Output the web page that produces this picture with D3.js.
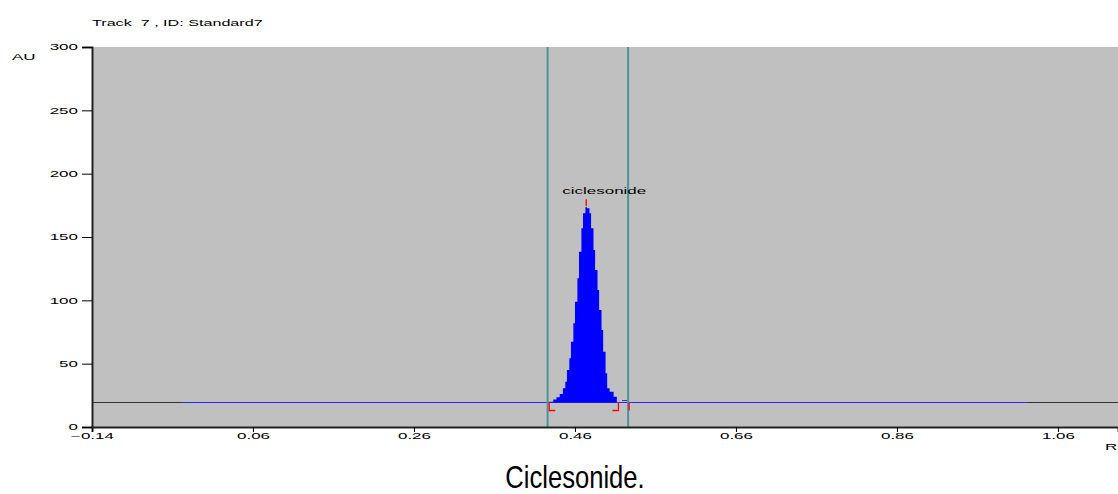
<!DOCTYPE html>
<html>
<head>
<meta charset="utf-8">
<script src="https://cdn.jsdelivr.net/npm/d3@7"></script>
<style>
  body { margin: 0; background: #fff; }
  text { font-family: "Liberation Sans", Arial, sans-serif; fill: #000; }
</style>
</head>
<body>
<div class="chart"></div>
<script>
// densitogram values (Rf, AU)
var peakRf = [0.428, 0.433, 0.437, 0.441, 0.445, 0.448, 0.450, 0.453, 0.455, 0.458, 0.460, 0.463, 0.465, 0.468, 0.470, 0.473, 0.475, 0.478, 0.480, 0.483, 0.485, 0.488, 0.490, 0.493, 0.495, 0.498, 0.500, 0.503, 0.508, 0.512]
var peakAU = [20.0, 21.8, 23.4, 26.0, 30.5, 35.8, 45.0, 54.2, 67.4, 81.9, 98.9, 117.4, 138.4, 156.9, 168.7, 173.4, 172.6, 168.7, 156.9, 139.7, 123.9, 108.2, 92.4, 76.6, 59.5, 42.4, 30.5, 27.9, 23.9, 20.0]
var baselineAU = 20
var blueBaseline = [-0.027, 1.023]
var windowRf = [0.426, 0.526]
var peakStart = 0.428, peakEnd = 0.514, peakMax = 0.474, peakMaxAU = 173.4
var peakName = 'ciclesonide'
var xTicks = [-0.14, 0.06, 0.26, 0.46, 0.66, 0.86, 1.06]
var yTicks = [0, 50, 100, 150, 200, 250, 300]

var margin = {top: 47, right: 0, bottom: 67, left: 92}
var W = 1118, H = 494
var width = W - margin.left - margin.right
var height = H - margin.top - margin.bottom
var SX = 2.0 // the instrument font is stretched sideways

var svg = d3.select('.chart').append('svg')
    .attr('width', W).attr('height', H)

var g = svg.append('g')
    .attr('transform', 'translate(' + margin.left + ',' + margin.top + ')')

var x = d3.scaleLinear().domain([-0.14, 1.1346]).range([0, width])
var y = d3.scaleLinear().domain([0, 300]).range([height, 0])

g.append('rect').attr('width', width).attr('height', height).attr('fill', '#c0c0c0')

// baseline, dark outside the integrated range, blue inside
var by = Math.round(y(baselineAU)) + 0.5
g.append('line')
    .attr('x1', 0).attr('x2', width)
    .attr('y1', by).attr('y2', by)
    .attr('stroke', '#333').attr('stroke-width', 1)
g.append('line')
    .attr('x1', x(blueBaseline[0])).attr('x2', x(blueBaseline[1]))
    .attr('y1', by).attr('y2', by)
    .attr('stroke', '#2a2aff').attr('stroke-width', 1.2)

var peak = peakRf.map(function (d, i) { return {rf: d, au: peakAU[i]} })
var area = d3.area()
    .x(function (d) { return x(d.rf) })
    .y0(by)
    .y1(function (d) { return y(d.au) })
    .curve(d3.curveStepAfter)
g.append('path').datum(peak).attr('d', area).attr('fill', '#0000ff')

// integration window lines
g.selectAll('.win').data(windowRf).enter().append('line')
    .attr('class', 'win')
    .attr('x1', function (d) { return x(d) }).attr('x2', function (d) { return x(d) })
    .attr('y1', 0).attr('y2', height)
    .attr('stroke', '#4f9494').attr('stroke-width', 2)

// red markers
var red = g.append('g').attr('stroke', '#ff0000').attr('stroke-width', 1.3).attr('fill', 'none')
red.append('path').attr('d', 'M' + (x(peakStart) + 6) + ',' + (by + 8) + 'H' + x(peakStart) + 'V' + by)
red.append('path').attr('d', 'M' + (x(peakEnd) - 6) + ',' + (by + 8) + 'H' + x(peakEnd) + 'V' + by)
red.append('path').attr('d', 'M' + (x(windowRf[1]) + 1) + ',' + by + 'V' + (by + 8))
red.append('path').attr('d', 'M' + x(peakMax) + ',' + (y(peakMaxAU) - 1) + 'V' + (y(peakMaxAU) - 8))
g.append('line')
    .attr('x1', x(windowRf[1]) - 6).attr('x2', x(windowRf[1]) - 1)
    .attr('y1', by - 2).attr('y2', by - 2)
    .attr('stroke', '#2a2aff')

g.append('text')
    .attr('transform', 'translate(' + (x(peakMax) + 18) + ',' + (y(peakMaxAU) - 13) + ') scale(' + SX + ',1)')
    .attr('text-anchor', 'middle').attr('font-size', 8.5)
    .text(peakName)

// axes
var xAxis = d3.axisBottom(x).tickValues(xTicks).tickSize(5).tickPadding(-1)
    .tickFormat(d3.format('.2f'))
var gx = g.append('g').attr('transform', 'translate(0,' + height + ')').call(xAxis)
gx.select('.domain').attr('stroke', '#222').attr('stroke-width', 2)
gx.selectAll('text').attr('font-size', 8.5).attr('transform', 'scale(' + SX + ',1)')
    .attr('dy', '0.95em').style('font-family', '"Liberation Sans", Arial, sans-serif')

var yAxis = d3.axisLeft(y).tickValues(yTicks).tickSize(10).tickPadding(3)
var gy = g.append('g').call(yAxis)
gy.select('.domain').attr('stroke', '#222').attr('stroke-width', 2)
gy.selectAll('text').attr('font-size', 8.5)
    .attr('x', -14 / SX).attr('transform', 'scale(' + SX + ',1)')
    .style('font-family', '"Liberation Sans", Arial, sans-serif')

// labels around the plot
svg.append('text').attr('transform', 'translate(92,26) scale(' + (SX * 0.95) + ',1)')
    .attr('font-size', 8.5).attr('xml:space', 'preserve').text('Track  7 , ID: Standard7')
svg.append('text').attr('transform', 'translate(12,60) scale(' + SX + ',1)')
    .attr('font-size', 8.5).text('AU')
svg.append('text').attr('transform', 'translate(1105,450) scale(' + SX + ',1)')
    .attr('font-size', 8.5).text('R')

svg.append('text').attr('transform', 'translate(575,488) scale(0.8,1)')
    .attr('text-anchor', 'middle')
    .attr('font-size', 32)
    .text('Ciclesonide.')
</script>
</body>
</html>
